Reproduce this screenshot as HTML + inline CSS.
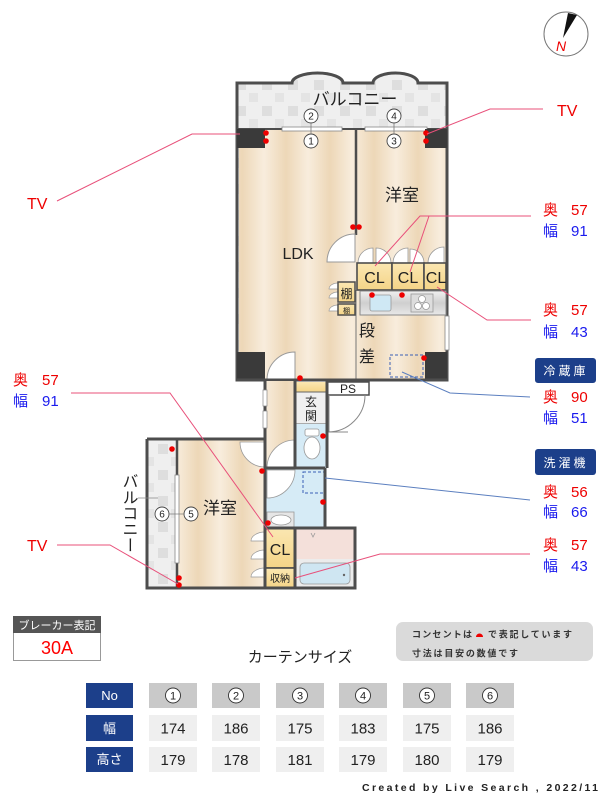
<!DOCTYPE html>
<html><head><meta charset="utf-8"><style>
html,body{margin:0;padding:0;background:#fff;}
svg{display:block;}
text{font-family:"Liberation Sans","Noto Sans CJK JP",sans-serif;}
</style></head><body>
<svg width="600" height="800" viewBox="0 0 600 800" xmlns="http://www.w3.org/2000/svg">
<defs>
<linearGradient id="wg" x1="0" x2="1" y1="0" y2="0">
<stop offset="0" stop-color="#f8eddd"/><stop offset="0.5" stop-color="#edd7b7"/><stop offset="1" stop-color="#f8eddd"/>
</linearGradient>
<pattern id="wood" width="44" height="10" patternUnits="userSpaceOnUse">
<rect width="44" height="10" fill="url(#wg)"/>
</pattern>
<pattern id="bal" width="26" height="26" patternUnits="userSpaceOnUse">
<rect width="26" height="26" fill="#efefef"/>
<rect x="2" y="2" width="10" height="10" fill="#dedede"/>
<rect x="15" y="15" width="9" height="9" fill="#e4e4e4"/>
</pattern>
<linearGradient id="kit" x1="0" x2="0" y1="0" y2="1">
<stop offset="0" stop-color="#f0f0f0"/><stop offset="0.5" stop-color="#cfcfcf"/><stop offset="1" stop-color="#e8e8e8"/>
</linearGradient>
<linearGradient id="cl" x1="0" x2="0" y1="0" y2="1">
<stop offset="0" stop-color="#fbe7b2"/><stop offset="1" stop-color="#f4d487"/>
</linearGradient>
</defs>

<!-- compass -->
<circle cx="566" cy="34" r="22" fill="#fff" stroke="#777" stroke-width="1"/>
<polygon points="568,13 577,15 563,38" fill="#111"/>
<text x="561" y="51" font-size="14" fill="#e00" font-style="italic" text-anchor="middle">N</text>

<!-- upper unit base (balcony) -->
<path d="M237,380 V83 H292 A25.5,10 0 0 1 343,83 H373 A22.5,10 0 0 1 418,83 H447 V380 Z" fill="url(#bal)"/>
<!-- floors -->
<rect x="239" y="129" width="117" height="251" fill="url(#wood)"/>
<rect x="356" y="129" width="90" height="251" fill="url(#wood)"/>
<!-- outer wall -->
<path d="M237,380 V83 H292 A25.5,10 0 0 1 343,83 H373 A22.5,10 0 0 1 418,83 H447 V380 Z" fill="none" stroke="#4d4d4d" stroke-width="3"/>
<line x1="237" y1="129" x2="447" y2="129" stroke="#4d4d4d" stroke-width="2"/>
<rect x="282" y="127" width="60" height="4" fill="#fff" stroke="#888" stroke-width="0.8"/>
<rect x="365" y="127" width="62" height="4" fill="#fff" stroke="#888" stroke-width="0.8"/>
<!-- right wall window -->
<rect x="445" y="316" width="4" height="34" fill="#fff" stroke="#888" stroke-width="0.8"/>
<!-- pillars -->
<rect x="237" y="129" width="28" height="19" fill="#3a3a3a"/>
<rect x="425" y="129" width="22" height="19" fill="#3a3a3a"/>
<rect x="237" y="352" width="28" height="28" fill="#3a3a3a"/>
<rect x="425" y="352" width="22" height="28" fill="#3a3a3a"/>
<!-- divider -->
<line x1="356" y1="129" x2="356" y2="235" stroke="#4d4d4d" stroke-width="2.5"/>
<line x1="356" y1="290" x2="356" y2="380" stroke="#777" stroke-width="1"/>
<!-- LDK door -->
<path d="M355,262 L327,262 A28,28 0 0 1 355,234 Z" fill="#fff" stroke="#999" stroke-width="1"/>
<!-- closet small doors -->
<g fill="#fff" stroke="#999" stroke-width="0.8">
<path d="M358,263 A15,15 0 0 1 373,248 V263 Z"/>
<path d="M391,263 A15,15 0 0 0 376,248 V263 Z"/>
<path d="M393,263 A15,15 0 0 1 408,248 V263 Z"/>
<path d="M424,263 A14,14 0 0 0 410,249 V263 Z"/>
<path d="M428,263 A16,16 0 0 1 444,247 V263 Z"/>
</g>
<!-- CL boxes -->
<g stroke="#4d4d4d" stroke-width="1.6" fill="url(#cl)">
<rect x="357" y="263" width="35" height="27"/>
<rect x="392" y="263" width="32" height="27"/>
<rect x="424" y="263" width="22" height="27"/>
</g>
<g font-size="16" fill="#222" text-anchor="middle">
<text x="374.5" y="283">CL</text>
<text x="408" y="283">CL</text>
<text x="436" y="283">CL</text>
</g>
<!-- kitchen -->
<rect x="360" y="291" width="86" height="24" fill="url(#kit)" stroke="#888" stroke-width="1"/>
<rect x="370" y="295" width="21" height="16" rx="2" fill="#cfe8f4" stroke="#999" stroke-width="0.8"/>
<g fill="#fff" stroke="#999" stroke-width="0.8">
<rect x="411" y="294" width="22" height="18" fill="#ddd"/>
<circle cx="422" cy="299" r="3.5"/><circle cx="418" cy="306" r="3.5"/><circle cx="426" cy="306" r="3.5"/>
</g>
<!-- shelves -->
<g fill="#fff" stroke="#999" stroke-width="0.7">
<path d="M338,283 A9,6 0 0 0 329,289 H338 Z"/>
<path d="M338,292 A9,6 0 0 0 329,298 H338 Z"/>
<path d="M338,305 A9,6 0 0 0 329,311 H338 Z"/>
</g>
<rect x="338" y="282" width="17" height="20" fill="url(#cl)" stroke="#4d4d4d" stroke-width="1.5"/>
<rect x="338" y="304" width="17" height="11" fill="url(#cl)" stroke="#4d4d4d" stroke-width="1.5"/>
<text x="346.5" y="298" font-size="12" fill="#222" text-anchor="middle">棚</text>
<text x="346.5" y="313" font-size="7" fill="#222" text-anchor="middle">棚</text>
<!-- 段差 -->
<text x="367" y="336" font-size="16" fill="#222" text-anchor="middle">段</text>
<text x="367" y="362" font-size="16" fill="#222" text-anchor="middle">差</text>
<!-- fridge -->
<rect x="390" y="355" width="33" height="22" fill="none" stroke="#3a5fb5" stroke-width="1" stroke-dasharray="3,2"/>
<!-- LDK bottom door -->
<path d="M267,380 A28,28 0 0 1 295,352 V380 Z" fill="#fff" stroke="#999" stroke-width="1"/>
<line x1="237" y1="380" x2="447" y2="380" stroke="#4d4d4d" stroke-width="3"/>

<!-- labels in upper unit -->
<text x="355" y="105" font-size="17" fill="#222" text-anchor="middle">バルコニー</text>
<g fill="#fff" stroke="#444" stroke-width="0.9">
<circle cx="311" cy="116" r="7"/><circle cx="311" cy="141" r="7"/>
<circle cx="394" cy="116" r="7"/><circle cx="394" cy="141" r="7"/>
</g>
<g font-size="10" fill="#222" text-anchor="middle">
<text x="311" y="119.5">2</text><text x="311" y="144.5">1</text>
<text x="394" y="119.5">4</text><text x="394" y="144.5">3</text>
</g>
<line x1="311" y1="123" x2="311" y2="134" stroke="#777" stroke-width="0.8"/>
<line x1="394" y1="123" x2="394" y2="134" stroke="#777" stroke-width="0.8"/>
<text x="402" y="201" font-size="17" fill="#222" text-anchor="middle">洋室</text>
<text x="298" y="259" font-size="16" fill="#222" text-anchor="middle">LDK</text>

<!-- corridor area -->
<rect x="266" y="381" width="29" height="89" fill="url(#wood)"/>
<rect x="296" y="382" width="31" height="10" fill="url(#cl)"/>
<rect x="296" y="392" width="31" height="32" fill="#f0f0f0" stroke="#666" stroke-width="1"/>
<text x="311" y="406" font-size="12" fill="#222" text-anchor="middle">玄</text>
<text x="311" y="420" font-size="12" fill="#222" text-anchor="middle">関</text>
<rect x="327" y="382" width="42" height="13" fill="#fff" stroke="#4d4d4d" stroke-width="1.5"/>
<text x="348" y="393" font-size="12" fill="#222" text-anchor="middle">PS</text>
<path d="M365,395 A37,37 0 0 1 328,432" fill="none" stroke="#888" stroke-width="1"/>
<line x1="328" y1="432" x2="348" y2="432" stroke="#888" stroke-width="1"/>
<path d="M329,395 V432" fill="none" stroke="#888" stroke-width="1"/>
<!-- toilet -->
<rect x="296" y="424" width="31" height="44" fill="#d6ebf6"/>
<rect x="305" y="429" width="14" height="7" rx="2" fill="#fff" stroke="#999" stroke-width="0.8"/>
<ellipse cx="312" cy="448" rx="8" ry="11" fill="#fff" stroke="#999" stroke-width="0.8"/>
<!-- washroom -->
<rect x="266" y="469" width="59" height="59" fill="#d6ebf6"/>
<rect x="303" y="472" width="22" height="21" fill="none" stroke="#3a5fb5" stroke-width="1" stroke-dasharray="3,2"/>
<rect x="267" y="512" width="27" height="16" fill="#e6e6e6" stroke="#999" stroke-width="0.8"/>
<ellipse cx="281" cy="520" rx="10" ry="5" fill="#fff" stroke="#999" stroke-width="0.8"/>
<path d="M267,470 V498 A28,28 0 0 0 295,470 Z" fill="#fff" stroke="#999" stroke-width="0.8"/>
<path d="M267,468 A28,28 0 0 1 295,440 V468 Z" fill="#fff" stroke="#999" stroke-width="0.8"/>
<!-- lower 洋室 -->
<rect x="147" y="439" width="30" height="149" fill="url(#bal)"/>
<rect x="177" y="439" width="88" height="149" fill="url(#wood)"/>
<path d="M265,442 H240 A25,25 0 0 0 265,467 Z" fill="#fff" stroke="#999" stroke-width="0.8"/>
<g fill="#fff" stroke="#999" stroke-width="0.7">
<path d="M265,532 A14,9 0 0 0 251,541 H265 Z"/>
<path d="M265,550 A14,9 0 0 0 251,559 H265 Z"/>
<path d="M265,568 A14,9 0 0 0 251,577 H265 Z"/>
</g>
<!-- CL / 収納 -->
<rect x="265" y="528" width="30" height="40" fill="url(#cl)" stroke="#4d4d4d" stroke-width="1.6"/>
<rect x="265" y="568" width="30" height="20" fill="url(#cl)" stroke="#4d4d4d" stroke-width="1.6"/>
<text x="280" y="555" font-size="16" fill="#222" text-anchor="middle">CL</text>
<text x="280" y="582" font-size="10" fill="#222" text-anchor="middle">収納</text>
<!-- bathroom -->
<rect x="296" y="529" width="59" height="30" fill="#f4e0da"/>
<path d="M311,533 L313,537 L315,533" fill="none" stroke="#999" stroke-width="0.8"/>
<rect x="296" y="559" width="59" height="29" fill="#ececec"/>
<rect x="300" y="563" width="50" height="21" rx="4" fill="#cfe6f2" stroke="#999" stroke-width="0.8"/>
<circle cx="344" cy="575" r="1.2" fill="#666"/>

<!-- walls lower -->
<g stroke="#4d4d4d" stroke-width="3" fill="none">
<path d="M265,380 V588"/>
<path d="M147,439 H265"/>
<path d="M147,439 V588 H355 V528 H325 V468"/>
<path d="M295,381 V468"/>
<path d="M327,381 V468"/>
<path d="M325,468 H265"/>
<path d="M295,528 V588"/>
<path d="M265,528 H325"/>
</g>
<line x1="177" y1="439" x2="177" y2="588" stroke="#4d4d4d" stroke-width="2.5"/>
<rect x="175" y="475" width="4" height="88" fill="#fff" stroke="#888" stroke-width="0.8"/>
<rect x="263" y="390" width="4" height="16" fill="#fff" stroke="#888" stroke-width="0.7"/>
<rect x="263" y="411" width="4" height="17" fill="#fff" stroke="#888" stroke-width="0.7"/>

<!-- lower labels -->
<g fill="#fff" stroke="#444" stroke-width="0.9">
<circle cx="162" cy="514" r="7"/><circle cx="191" cy="514" r="7"/>
</g>
<g font-size="10" fill="#222" text-anchor="middle">
<text x="162" y="517.5">6</text><text x="191" y="517.5">5</text>
</g>
<line x1="169" y1="514" x2="184" y2="514" stroke="#777" stroke-width="0.7"/>
<text x="220" y="514" font-size="17" fill="#222" text-anchor="middle">洋室</text>
<text x="128" y="473" font-size="16" fill="#222" style="writing-mode:vertical-rl;">バルコニー</text>
<line x1="138" y1="498" x2="158" y2="498" stroke="#888" stroke-width="0.8"/>

<!-- outlets -->
<g fill="#e00">
<circle cx="266" cy="133" r="2.8"/><circle cx="266" cy="141" r="2.8"/>
<circle cx="426" cy="133" r="2.8"/><circle cx="426" cy="141" r="2.8"/>
<circle cx="353" cy="227" r="2.8"/><circle cx="359" cy="227" r="2.8"/>
<circle cx="372" cy="295" r="2.8"/><circle cx="402" cy="295" r="2.8"/>
<circle cx="424" cy="358" r="2.8"/>
<circle cx="300" cy="378" r="2.8"/>
<circle cx="172" cy="449" r="2.8"/>
<circle cx="262" cy="471" r="2.8"/>
<circle cx="323" cy="436" r="2.8"/>
<circle cx="323" cy="502" r="2.8"/>
<circle cx="268" cy="523" r="2.8"/>
<circle cx="179" cy="578" r="2.8"/><circle cx="179" cy="585" r="2.8"/>
</g>

<!-- leader lines -->
<g fill="none" stroke="#e8507a" stroke-width="1">
<polyline points="57,201 192,134 240,134"/>
<polyline points="427,134 490,109 543,109"/>
<polyline points="375,266 420,216 531,216"/>
<line x1="410" y1="272" x2="429" y2="216"/>
<polyline points="437,287 487,320 531,320"/>
<polyline points="295,578 380,554 530,554"/>
<polyline points="71,393 170,393 273,537"/>
<polyline points="57,545 110,545 178,584"/>
</g>
<g fill="none" stroke="#5b7fbf" stroke-width="1">
<polyline points="402,372 450,393 530,397"/>
<line x1="325" y1="478" x2="530" y2="500"/>
</g>

<!-- side labels -->
<g font-size="16" fill="#e00">
<text x="557" y="116">TV</text>
<text x="27" y="209">TV</text>
<text x="27" y="551">TV</text>
</g>
<g font-size="15">
<text x="543" y="215" fill="#e00">奥</text><text x="571" y="215" fill="#e00">57</text>
<text x="543" y="236" fill="#1a1aee">幅</text><text x="571" y="236" fill="#1a1aee">91</text>
<text x="543" y="315" fill="#e00">奥</text><text x="571" y="315" fill="#e00">57</text>
<text x="543" y="337" fill="#1a1aee">幅</text><text x="571" y="337" fill="#1a1aee">43</text>
<text x="543" y="402" fill="#e00">奥</text><text x="571" y="402" fill="#e00">90</text>
<text x="543" y="423" fill="#1a1aee">幅</text><text x="571" y="423" fill="#1a1aee">51</text>
<text x="543" y="497" fill="#e00">奥</text><text x="571" y="497" fill="#e00">56</text>
<text x="543" y="517" fill="#1a1aee">幅</text><text x="571" y="517" fill="#1a1aee">66</text>
<text x="543" y="550" fill="#e00">奥</text><text x="571" y="550" fill="#e00">57</text>
<text x="543" y="571" fill="#1a1aee">幅</text><text x="571" y="571" fill="#1a1aee">43</text>
<text x="13" y="385" fill="#e00">奥</text><text x="42" y="385" fill="#e00">57</text>
<text x="13" y="406" fill="#1a1aee">幅</text><text x="42" y="406" fill="#1a1aee">91</text>
</g>
<rect x="535" y="358" width="61" height="25" rx="3" fill="#1c3f8a"/>
<text x="566" y="375" font-size="12" fill="#fff" text-anchor="middle" letter-spacing="3">冷蔵庫</text>
<rect x="535" y="449" width="61" height="26" rx="3" fill="#1c3f8a"/>
<text x="566" y="467" font-size="12" fill="#fff" text-anchor="middle" letter-spacing="3">洗濯機</text>

<!-- breaker box -->
<rect x="13.5" y="616.5" width="87" height="44" fill="#fff" stroke="#999" stroke-width="1"/>
<rect x="13" y="616" width="88" height="17" fill="#555"/>
<text x="57" y="629" font-size="11" fill="#fff" text-anchor="middle">ブレーカー表記</text>
<text x="57" y="654" font-size="18" fill="#f00" text-anchor="middle">30A</text>

<!-- note box -->
<rect x="396" y="622" width="197" height="39" rx="7" fill="#dadada"/>
<text x="412" y="637.5" font-size="9" font-weight="bold" fill="#333" textLength="60" lengthAdjust="spacing">コンセントは</text>
<path d="M476,637 A3.5,3.5 0 0 1 483,637 Z" fill="#e00"/>
<text x="488" y="637.5" font-size="9" font-weight="bold" fill="#333" textLength="84" lengthAdjust="spacing">で表記しています</text>
<text x="412" y="656.5" font-size="9" font-weight="bold" fill="#333" textLength="106" lengthAdjust="spacing">寸法は目安の数値です</text>

<text x="300" y="662" font-size="15" fill="#222" text-anchor="middle">カーテンサイズ</text>

<!-- table -->
<g fill="#1c3f8a">
<rect x="86" y="683" width="47" height="25"/>
<rect x="86" y="715" width="47" height="26"/>
<rect x="86" y="747" width="47" height="25"/>
</g>
<g font-size="13" fill="#fff" text-anchor="middle">
<text x="109.5" y="700">No</text>
<text x="109.5" y="733">幅</text>
<text x="109.5" y="764">高さ</text>
</g>
<g fill="#c9c9c9">
<rect x="149" y="683" width="48" height="25"/><rect x="212" y="683" width="48" height="25"/>
<rect x="276" y="683" width="48" height="25"/><rect x="339" y="683" width="48" height="25"/>
<rect x="403" y="683" width="48" height="25"/><rect x="466" y="683" width="48" height="25"/>
</g>
<g fill="#efefef">
<rect x="149" y="715" width="48" height="26"/><rect x="212" y="715" width="48" height="26"/>
<rect x="276" y="715" width="48" height="26"/><rect x="339" y="715" width="48" height="26"/>
<rect x="403" y="715" width="48" height="26"/><rect x="466" y="715" width="48" height="26"/>
<rect x="149" y="747" width="48" height="25"/><rect x="212" y="747" width="48" height="25"/>
<rect x="276" y="747" width="48" height="25"/><rect x="339" y="747" width="48" height="25"/>
<rect x="403" y="747" width="48" height="25"/><rect x="466" y="747" width="48" height="25"/>
</g>
<g fill="#fff" stroke="#333" stroke-width="0.9">
<circle cx="173" cy="695.5" r="7.5"/><circle cx="236" cy="695.5" r="7.5"/>
<circle cx="300" cy="695.5" r="7.5"/><circle cx="363" cy="695.5" r="7.5"/>
<circle cx="427" cy="695.5" r="7.5"/><circle cx="490" cy="695.5" r="7.5"/>
</g>
<g font-size="11" fill="#222" text-anchor="middle">
<text x="173" y="699.5">1</text><text x="236" y="699.5">2</text>
<text x="300" y="699.5">3</text><text x="363" y="699.5">4</text>
<text x="427" y="699.5">5</text><text x="490" y="699.5">6</text>
</g>
<g font-size="15" fill="#222" text-anchor="middle">
<text x="173" y="733.5">174</text><text x="236" y="733.5">186</text>
<text x="300" y="733.5">175</text><text x="363" y="733.5">183</text>
<text x="427" y="733.5">175</text><text x="490" y="733.5">186</text>
<text x="173" y="765">179</text><text x="236" y="765">178</text>
<text x="300" y="765">181</text><text x="363" y="765">179</text>
<text x="427" y="765">180</text><text x="490" y="765">179</text>
</g>
<text x="362" y="791" font-family="Liberation Serif, serif" font-size="10.5" font-weight="bold" fill="#222" textLength="236" lengthAdjust="spacing">Created by Live Search , 2022/11</text>
</svg>
</body></html>
